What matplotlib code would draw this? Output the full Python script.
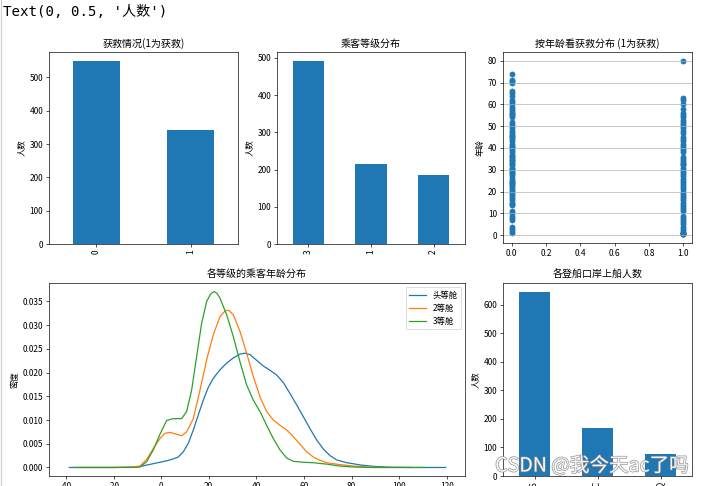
import matplotlib
matplotlib.use("Agg")
import matplotlib.pyplot as plt
import matplotlib.patheffects as pe
from matplotlib.lines import Line2D

plt.rcParams['font.family'] = ['Noto Sans CJK SC', 'DejaVu Sans']
plt.rcParams['axes.unicode_minus'] = False

# ---- data ----
survived_labels = ['0', '1']
survived_counts = [549, 342]

pclass_labels = ['3', '1', '2']
pclass_counts = [491, 216, 184]

embarked_labels = ['S', 'C', 'Q']
embarked_counts = [644, 168, 77]

ages_died = [1, 2, 3, 4, 7, 8, 9, 10, 11, 14, 14.5, 15, 16, 17, 18, 19, 20, 20.5, 21, 22,
             23, 23.5, 24, 24.5, 25, 26, 27, 28, 28.5, 29, 30, 30.5, 31, 32, 32.5, 33, 34,
             34.5, 35, 36, 36.5, 37, 38, 39, 40, 40.5, 41, 42, 43, 44, 45, 45.5, 46, 47, 48,
             49, 50, 51, 52, 54, 55, 55.5, 56, 57, 58, 59, 60, 61, 62, 64, 65, 66, 70, 70.5,
             71, 74]
ages_survived = [0.42, 0.67, 0.75, 0.83, 0.92, 1, 2, 3, 4, 5, 6, 7, 8, 9, 11, 12, 13, 14, 15,
                 16, 17, 18, 19, 20, 21, 22, 23, 24, 25, 26, 27, 28, 29, 30, 31, 32, 32.5, 33,
                 34, 35, 36, 38, 39, 40, 41, 42, 43, 44, 45, 47, 48, 49, 50, 51, 52, 53, 54,
                 55, 56, 58, 60, 62, 63, 80]

# KDE curves (age, density)
kde1_age = [-38.6, -20, -12, -8.9, -6.1, -3.3, -0.5, 2.3, 5.1, 7.2, 9.3, 11.4, 13.5, 15.6,
            17.7, 19.8, 21.9, 24.7, 27.5, 30.3, 33.1, 35.2, 37.3, 40.1, 42.9, 45.7, 48.5,
            51.3, 54.1, 56.9, 59.7, 62.5, 65.3, 68.1, 70.9, 73.7, 77.9, 80.5, 84, 90, 96,
            105, 119.5]
kde1_den = [0.0, 0.0, 0.00005, 0.0002, 0.0005, 0.0008, 0.0011, 0.0014, 0.0018, 0.0022,
            0.0033, 0.0051, 0.0079, 0.0111, 0.0142, 0.0169, 0.0188, 0.0206, 0.022, 0.0231,
            0.0239, 0.0241, 0.0238, 0.0226, 0.0214, 0.0205, 0.0195, 0.0179, 0.0156, 0.0132,
            0.0107, 0.0082, 0.0058, 0.0039, 0.0025, 0.0016, 0.001, 0.0008, 0.0005, 0.0002,
            0.00005, 0.0, 0.0]

kde2_age = [-34.0, -20, -12, -8.9, -6.1, -3.3, -0.5, 1.6, 3.7, 6.5, 8.6, 10.7, 13.5, 16.3,
            19.1, 21.9, 24.7, 27.0, 28.5, 30.3, 33.1, 35.9, 38.7, 41.5, 44.3, 47.1, 49.9,
            52.7, 55.5, 58.3, 61.1, 63.9, 66.7, 69.5, 75.1, 80.7, 86.3, 92, 104.7]
kde2_den = [0.0, 0.0, 0.0001, 0.0003, 0.0017, 0.004, 0.0061, 0.0072, 0.0074, 0.007, 0.0067,
            0.0075, 0.0103, 0.0163, 0.0227, 0.028, 0.0318, 0.0331, 0.0331, 0.0322, 0.0287,
            0.0241, 0.0192, 0.0149, 0.0118, 0.0100, 0.0089, 0.0079, 0.0065, 0.0049, 0.0033,
            0.0022, 0.0015, 0.001, 0.0006, 0.0003, 0.0001, 0.0, 0.0]

kde3_age = [-36.4, -20, -12, -8.9, -6.1, -3.3, -0.5, 2.3, 5.1, 8.6, 10.7, 12.8, 14.9, 17.0,
            19.1, 20.8, 22.2, 23.5, 24.7, 27.5, 30.3, 33.1, 35.9, 38.7, 41.5, 44.3, 47.1,
            49.9, 52.7, 55.5, 59.7, 63.9, 69.5, 75.1, 80.7, 88, 110.8]
kde3_den = [0.0, 0.0, 0.0, 0.0001, 0.0012, 0.0037, 0.007, 0.0099, 0.0103, 0.0103, 0.0118,
            0.0163, 0.0234, 0.0304, 0.035, 0.0366, 0.0371, 0.0367, 0.0357, 0.0322, 0.0276,
            0.0223, 0.0174, 0.0142, 0.0118, 0.0089, 0.0061, 0.0037, 0.002, 0.0013, 0.0011,
            0.001, 0.0007, 0.0003, 0.0001, 0.0, 0.0]

kde_labels = ['头等舱', '2等舱', '3等舱']

# ---- figure ----
W, H = 703, 486
fig = plt.figure(figsize=(W / 60, H / 60), dpi=60)

def box(l, t, r, b):
    return [l / W, (H - b) / H, (r - l) / W, (b - t) / H]

fig.text(3 / W, 1 - 12 / H, "Text(0, 0.5, '人数')", fontsize=17, va='center', ha='left',
         family=['DejaVu Sans Mono', 'Noto Sans CJK SC'])
fig.add_artist(Line2D([0.8 / W, 0.8 / W], [0, 1], color='#d0d0d0', lw=1.5,
                      transform=fig.transFigure))

# ax1: survived
ax1 = fig.add_axes(box(49, 52, 238, 244))
ax1.bar(range(len(survived_labels)), survived_counts, width=0.5, color='C0')
ax1.set_xlim(-0.5, len(survived_labels) - 0.5)
ax1.set_xticks(range(len(survived_labels)))
ax1.set_xticklabels(survived_labels, rotation=90)
ax1.set_title('获救情况(1为获救)')
ax1.set_ylabel('人数')

# ax2: pclass
ax2 = fig.add_axes(box(277, 52, 465, 244))
ax2.bar(range(len(pclass_labels)), pclass_counts, width=0.5, color='C0')
ax2.set_xlim(-0.5, len(pclass_labels) - 0.5)
ax2.set_xticks(range(len(pclass_labels)))
ax2.set_xticklabels(pclass_labels, rotation=90)
ax2.set_title('乘客等级分布')
ax2.set_ylabel('人数')

# ax3: scatter
ax3 = fig.add_axes(box(503, 52, 692, 243))
ax3.scatter([0] * len(ages_died), ages_died, color='C0')
ax3.scatter([1] * len(ages_survived), ages_survived, color='C0')
ax3.set_ylabel('年龄')
ax3.grid(True, which='major', axis='y')
ax3.set_title('按年龄看获救分布 (1为获救)')

# ax4: kde
ax4 = fig.add_axes(box(49, 283, 465, 476))
ax4.plot(kde1_age, kde1_den, color='C0', label=kde_labels[0])
ax4.plot(kde2_age, kde2_den, color='C1', label=kde_labels[1])
ax4.plot(kde3_age, kde3_den, color='C2', label=kde_labels[2])
ax4.set_xlim(-47.1, 127.6)
ax4.set_ylim(-0.0018, 0.0389)
ax4.set_xticks([-40, -20, 0, 20, 40, 60, 80, 100, 120])
ax4.set_xlabel('年龄')
ax4.set_ylabel('密度')
ax4.set_title('各等级的乘客年龄分布')
ax4.legend(loc='best')

# ax5: embarked
ax5 = fig.add_axes(box(503, 283, 692, 476))
ax5.bar(range(len(embarked_labels)), embarked_counts, width=0.5, color='C0')
ax5.set_xlim(-0.5, len(embarked_labels) - 0.5)
ax5.set_xticks(range(len(embarked_labels)))
ax5.set_xticklabels(embarked_labels, rotation=90)
ax5.set_title('各登船口岸上船人数')
ax5.set_ylabel('人数')

t = fig.text(689 / W, 1 - 466 / H, 'CSDN @我今天ac了吗', fontsize=23.5, ha='right', va='center',
             color='white', alpha=0.9)
t.set_path_effects([pe.Stroke(linewidth=1.6, foreground='#8a8a8a'), pe.Normal()])

fig.savefig('out.png', dpi=60)
